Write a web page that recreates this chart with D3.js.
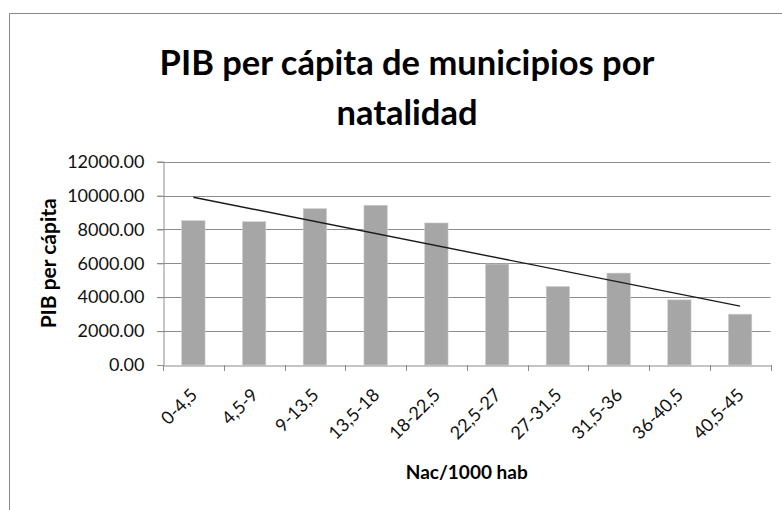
<!DOCTYPE html>
<html>
<head>
<meta charset="utf-8">
<script src="https://cdn.jsdelivr.net/npm/d3@7"></script>
<style>
  html, body { margin: 0; padding: 0; background: #fff; }
  svg { display: block; font-family: Lato, "Open Sans", sans-serif; }
</style>
</head>
<body>
<svg id="chart" width="782" height="510"></svg>
<script>
// ── Data ──────────────────────────────────────────────────────────────────────
const categories = ['0-4,5', '4,5-9', '9-13,5', '13,5-18', '18-22,5', '22,5-27', '27-31,5', '31,5-36', '36-40,5', '40,5-45'];
const pibValues  = [8520, 8460, 9230, 9430, 8385, 5960, 4635, 5425, 3845, 3000];
const yTicks     = [0, 2000, 4000, 6000, 8000, 10000, 12000];

const titleLines = ['PIB per cápita de municipios por', 'natalidad'];
const yTitle = 'PIB per cápita';
const xTitle = 'Nac/1000 hab';

// ── Layout ────────────────────────────────────────────────────────────────────
const svg = d3.select('#chart');
const plot = { left: 163, right: 770.5, top: 161.7, bottom: 365 };

const x = d3.scaleBand()
  .domain(categories)
  .range([plot.left, plot.right])
  .paddingInner(0.615)
  .paddingOuter(0.3075);

const y = d3.scaleLinear().domain([0, 12000]).range([plot.bottom, plot.top]);

// chart frame (only top and left edges are inside the window)
svg.append('path')
  .attr('d', 'M9.5,520 V13.5 H790')
  .attr('fill', 'none').attr('stroke', '#888').attr('stroke-width', 1);

// title
svg.append('g').selectAll('text').data(titleLines).join('text')
  .attr('x', 407).attr('y', (d, i) => 75 + i * 50)
  .attr('text-anchor', 'middle')
  .attr('font-size', 34.5).attr('font-weight', 700).attr('fill', '#000')
  .text(d => d);

// gridlines
svg.append('g').selectAll('line').data(yTicks.filter(t => t > 0)).join('line')
  .attr('x1', plot.left - 6).attr('x2', plot.right)
  .attr('y1', d => Math.round(y(d)) + 0.5).attr('y2', d => Math.round(y(d)) + 0.5)
  .attr('stroke', '#8c8c8c').attr('stroke-width', 1);

// y axis
const yAxis = svg.append('g')
  .attr('transform', `translate(${Math.round(plot.left) + 0.5},0)`)
  .call(d3.axisLeft(y).tickValues(yTicks).tickFormat(d3.format('.2f')).tickSize(6).tickPadding(13));
yAxis.select('.domain').attr('stroke', '#8c8c8c');
yAxis.selectAll('.tick line').attr('stroke', '#8c8c8c');
yAxis.selectAll('text').attr('font-size', 18).attr('fill', '#111').attr('font-family', 'Lato');

// bars
svg.append('g').selectAll('rect').data(pibValues).join('rect')
  .attr('x', (d, i) => x(categories[i]))
  .attr('width', x.bandwidth())
  .attr('y', d => y(d))
  .attr('height', d => y(0) - y(d))
  .attr('fill', '#a6a6a6')
  .attr('stroke', '#d0d0d0').attr('stroke-width', 0.6);

// x axis
const xAxis = svg.append('g')
  .attr('transform', `translate(0,${Math.round(plot.bottom) + 0.5})`)
  .call(d3.axisBottom(x).tickSize(0).tickFormat(''));
xAxis.select('.domain').attr('stroke', '#8c8c8c');
xAxis.selectAll('.tick').remove();

// category boundary ticks
const bounds = d3.range(categories.length + 1).map(i => plot.left + i * x.step());
svg.append('g').selectAll('line').data(bounds).join('line')
  .attr('x1', d => Math.round(d) + 0.5).attr('x2', d => Math.round(d) + 0.5)
  .attr('y1', plot.bottom).attr('y2', plot.bottom + 6)
  .attr('stroke', '#8c8c8c');

// rotated category labels
svg.append('g').selectAll('text').data(categories).join('text')
  .attr('transform', d => `translate(${x(d) + x.bandwidth() / 2 + 5},396) rotate(-45)`)
  .attr('text-anchor', 'end')
  .attr('font-size', 18).attr('fill', '#111')
  .text(d => d);

// linear trend line (least squares over category index)
const idx = d3.range(pibValues.length);
const mx = d3.mean(idx), my = d3.mean(pibValues);
const slope = d3.sum(idx, i => (i - mx) * (pibValues[i] - my)) / d3.sum(idx, i => (i - mx) ** 2);
const icpt = my - slope * mx;
const trend = [0, pibValues.length - 1].map(i => [x(categories[i]) + x.bandwidth() / 2, y(icpt + slope * i)]);
svg.append('path')
  .attr('d', d3.line()(trend))
  .attr('fill', 'none').attr('stroke', '#1a1a1a').attr('stroke-width', 1.4);

// axis titles
svg.append('text')
  .attr('transform', `translate(56,${(plot.top + plot.bottom) / 2}) rotate(-90)`)
  .attr('text-anchor', 'middle')
  .attr('font-size', 20).attr('font-weight', 700).attr('fill', '#000')
  .attr('textLength', 130).attr('lengthAdjust', 'spacingAndGlyphs')
  .text(yTitle);

svg.append('text')
  .attr('x', (plot.left + plot.right) / 2).attr('y', 479)
  .attr('text-anchor', 'middle')
  .attr('font-size', 19).attr('font-weight', 700).attr('fill', '#000')
  .text(xTitle);
</script>
</body>
</html>
